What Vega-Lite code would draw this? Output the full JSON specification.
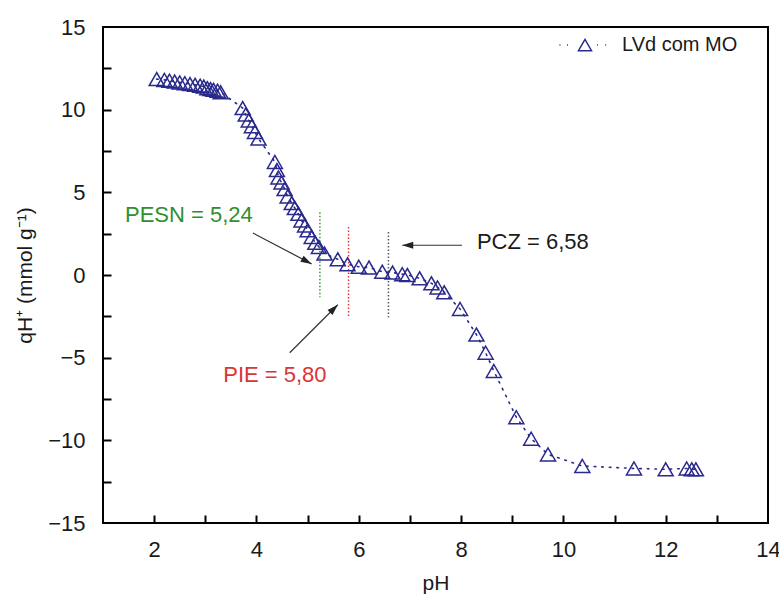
{
  "$schema": "https://vega.github.io/schema/vega-lite/v6.json",
  "width": 665,
  "height": 496,
  "autosize": {"type": "none"},
  "padding": {"left": 103, "top": 27, "right": 11, "bottom": 78},
  "background": "white",
  "config": {
    "font": "Liberation Sans",
    "view": {"stroke": "black", "strokeWidth": 2},
    "axis": {"grid": false, "labelFont": "Liberation Sans", "titleFont": "Liberation Sans", "titleFontWeight": "normal", "labelColor": "#1a1a1a", "titleColor": "#1a1a1a", "domainColor": "black", "tickColor": "black", "labelFlush": false, "labelOverlap": false, "labelBound": false}
  },
  "datasets": {
    "pts": [
      {"pH": 2.05, "qH": 11.85, "series": "LVd com MO"},
      {"pH": 2.2, "qH": 11.8, "series": "LVd com MO"},
      {"pH": 2.3, "qH": 11.75, "series": "LVd com MO"},
      {"pH": 2.4, "qH": 11.7, "series": "LVd com MO"},
      {"pH": 2.5, "qH": 11.65, "series": "LVd com MO"},
      {"pH": 2.6, "qH": 11.6, "series": "LVd com MO"},
      {"pH": 2.7, "qH": 11.55, "series": "LVd com MO"},
      {"pH": 2.8, "qH": 11.5, "series": "LVd com MO"},
      {"pH": 2.9, "qH": 11.45, "series": "LVd com MO"},
      {"pH": 2.97, "qH": 11.4, "series": "LVd com MO"},
      {"pH": 3.04, "qH": 11.3, "series": "LVd com MO"},
      {"pH": 3.1, "qH": 11.25, "series": "LVd com MO"},
      {"pH": 3.16, "qH": 11.2, "series": "LVd com MO"},
      {"pH": 3.24, "qH": 11.15, "series": "LVd com MO"},
      {"pH": 3.3, "qH": 11.05, "series": "LVd com MO"},
      {"pH": 3.73, "qH": 10.1, "series": "LVd com MO"},
      {"pH": 3.79, "qH": 9.7, "series": "LVd com MO"},
      {"pH": 3.85, "qH": 9.35, "series": "LVd com MO"},
      {"pH": 3.91, "qH": 9.0, "series": "LVd com MO"},
      {"pH": 3.97, "qH": 8.65, "series": "LVd com MO"},
      {"pH": 4.04, "qH": 8.25, "series": "LVd com MO"},
      {"pH": 4.36, "qH": 6.84, "series": "LVd com MO"},
      {"pH": 4.4, "qH": 6.35, "series": "LVd com MO"},
      {"pH": 4.43, "qH": 5.9, "series": "LVd com MO"},
      {"pH": 4.49, "qH": 5.6, "series": "LVd com MO"},
      {"pH": 4.55, "qH": 5.2, "series": "LVd com MO"},
      {"pH": 4.61, "qH": 4.75, "series": "LVd com MO"},
      {"pH": 4.69, "qH": 4.35, "series": "LVd com MO"},
      {"pH": 4.75, "qH": 4.05, "series": "LVd com MO"},
      {"pH": 4.82, "qH": 3.7, "series": "LVd com MO"},
      {"pH": 4.88, "qH": 3.3, "series": "LVd com MO"},
      {"pH": 4.95, "qH": 3.0, "series": "LVd com MO"},
      {"pH": 5.0, "qH": 2.7, "series": "LVd com MO"},
      {"pH": 5.08, "qH": 2.3, "series": "LVd com MO"},
      {"pH": 5.15, "qH": 1.95, "series": "LVd com MO"},
      {"pH": 5.22, "qH": 1.7, "series": "LVd com MO"},
      {"pH": 5.33, "qH": 1.3, "series": "LVd com MO"},
      {"pH": 5.59, "qH": 0.95, "series": "LVd com MO"},
      {"pH": 5.78, "qH": 0.65, "series": "LVd com MO"},
      {"pH": 6.0, "qH": 0.5, "series": "LVd com MO"},
      {"pH": 6.2, "qH": 0.45, "series": "LVd com MO"},
      {"pH": 6.46, "qH": 0.2, "series": "LVd com MO"},
      {"pH": 6.66, "qH": 0.15, "series": "LVd com MO"},
      {"pH": 6.85, "qH": 0.05, "series": "LVd com MO"},
      {"pH": 6.95, "qH": 0.0, "series": "LVd com MO"},
      {"pH": 7.19, "qH": -0.2, "series": "LVd com MO"},
      {"pH": 7.42, "qH": -0.5, "series": "LVd com MO"},
      {"pH": 7.54, "qH": -0.75, "series": "LVd com MO"},
      {"pH": 7.67, "qH": -1.05, "series": "LVd com MO"},
      {"pH": 7.98, "qH": -2.05, "series": "LVd com MO"},
      {"pH": 8.3, "qH": -3.6, "series": "LVd com MO"},
      {"pH": 8.48, "qH": -4.7, "series": "LVd com MO"},
      {"pH": 8.64, "qH": -5.8, "series": "LVd com MO"},
      {"pH": 9.08, "qH": -8.6, "series": "LVd com MO"},
      {"pH": 9.37, "qH": -9.9, "series": "LVd com MO"},
      {"pH": 9.7, "qH": -10.85, "series": "LVd com MO"},
      {"pH": 10.37, "qH": -11.55, "series": "LVd com MO"},
      {"pH": 11.38, "qH": -11.7, "series": "LVd com MO"},
      {"pH": 12.0, "qH": -11.75, "series": "LVd com MO"},
      {"pH": 12.41, "qH": -11.7, "series": "LVd com MO"},
      {"pH": 12.51, "qH": -11.75, "series": "LVd com MO"},
      {"pH": 12.59, "qH": -11.75, "series": "LVd com MO"}
    ],
    "vlines": [
      {"name": "PESN", "pH": 5.24, "top": 3.8, "bottom": -1.35},
      {"name": "PIE", "pH": 5.80, "top": 2.9, "bottom": -2.55},
      {"name": "PCZ", "pH": 6.58, "top": 2.6, "bottom": -2.55}
    ],
    "arrows": [
      {"name": "PESN", "x1": 3.93, "y1": 2.54, "x2": 5.08, "y2": 0.67},
      {"name": "PCZ", "x1": 8.02, "y1": 1.8, "x2": 6.85, "y2": 1.8},
      {"name": "PIE", "x1": 4.65, "y1": -4.7, "x2": 5.59, "y2": -1.8}
    ],
    "labels": [
      {"name": "PESN", "pH": 1.43, "qH": 3.2, "text": "PESN = 5,24"},
      {"name": "PCZ", "pH": 8.31, "qH": 1.57, "text": "PCZ = 6,58"},
      {"name": "PIE", "pH": 3.35, "qH": -6.47, "text": "PIE = 5,80"}
    ]
  },
  "layer": [
    {
      "mark": {"type": "rule", "color": "#a0a0a0", "strokeWidth": 1.2},
      "encoding": {"y": {"datum": 0, "axis": null}}
    },
    {
      "data": {"name": "vlines"},
      "mark": {"type": "rule", "strokeWidth": 1.5, "strokeDash": [1.5, 2]},
      "encoding": {
        "x": {"field": "pH", "type": "quantitative", "scale": {"domain": [1, 14], "nice": false, "zero": false},
              "axis": {"orient": "bottom", "values": [2, 3, 4, 5, 6, 7, 8, 9, 10, 11, 12, 13], "tickSize": -8, "tickWidth": 2, "labels": false, "domain": false, "title": null}},
        "y": {"field": "top", "type": "quantitative", "scale": {"domain": [-15, 15], "nice": false, "zero": false},
              "axis": {"orient": "left", "values": [-12.5, -10, -7.5, -5, -2.5, 0, 2.5, 5, 7.5, 10, 12.5], "tickSize": -8, "tickWidth": 2, "labels": false, "domain": false, "title": null}},
        "y2": {"field": "bottom"},
        "stroke": {"field": "name", "type": "nominal", "scale": {"domain": ["PESN", "PIE", "PCZ"], "range": ["#3a9a3a", "#dd3b3b", "#555566"]}, "legend": null}
      }
    },
    {
      "data": {"name": "pts"},
      "mark": {"type": "line", "strokeWidth": 1.6, "strokeDash": [1.6, 6], "strokeCap": "round"},
      "encoding": {
        "x": {"field": "pH", "type": "quantitative",
              "axis": {"orient": "bottom", "values": [2, 4, 6, 8, 10, 12, 14], "ticks": false, "domain": false, "labelPadding": 16, "labelFontSize": 22, "title": "pH", "titleFontSize": 21, "titlePadding": 12}},
        "y": {"field": "qH", "type": "quantitative",
              "axis": {"orient": "left", "values": [-15, -10, -5, 0, 5, 10, 15], "ticks": false, "domain": false, "labelPadding": 18, "labelFontSize": 22, "title": "qH⁺ (mmol g⁻¹)", "titleFontSize": 21, "titlePadding": 12}},
        "order": {"field": "pH", "type": "quantitative"},
        "color": {"field": "series", "type": "nominal", "scale": {"range": ["#2a2a8c"]},
                  "legend": {"title": null, "orient": "none", "legendX": 472, "legendY": 8, "padding": 0, "labelFontSize": 20, "labelColor": "#1a1a1a", "labelOffset": 27,
                             "symbolType": "M-3.4,0h0.12M-2.4,0h0.12M1.6,0h0.12M2.7,0h0.12M0,-0.75L-0.87,0.75L0.87,0.75Z", "symbolSize": 225, "symbolStrokeWidth": 1.5, "symbolFillColor": "transparent", "symbolStrokeColor": "#2a2a8c"}}
      }
    },
    {
      "data": {"name": "pts"},
      "mark": {"type": "point", "shape": "triangle-up", "size": 225, "filled": false, "strokeWidth": 1.5, "opacity": 1},
      "encoding": {
        "x": {"field": "pH", "type": "quantitative", "axis": null},
        "y": {"field": "qH", "type": "quantitative", "axis": null},
        "color": {"field": "series", "type": "nominal"}
      }
    },
    {
      "data": {"name": "arrows"},
      "mark": {"type": "rule", "color": "#333333", "strokeWidth": 1.2},
      "encoding": {
        "x": {"field": "x1", "type": "quantitative", "axis": null},
        "y": {"field": "y1", "type": "quantitative", "axis": null},
        "x2": {"field": "x2"},
        "y2": {"field": "y2"}
      }
    },
    {
      "data": {"name": "arrows"},
      "mark": {"type": "point", "shape": "M0,0L-0.7,2.2L0.7,2.2Z", "size": 100, "filled": true, "color": "#222222", "opacity": 1},
      "encoding": {
        "x": {"field": "x2", "type": "quantitative", "axis": null},
        "y": {"field": "y2", "type": "quantitative", "axis": null},
        "angle": {"field": "name", "type": "nominal", "scale": {"type": "ordinal", "domain": ["PESN", "PCZ", "PIE"], "range": [118, 270, 45]}, "legend": null}
      }
    },
    {
      "data": {"name": "labels"},
      "mark": {"type": "text", "align": "left", "baseline": "alphabetic", "fontSize": 22, "font": "Liberation Sans"},
      "encoding": {
        "x": {"field": "pH", "type": "quantitative", "axis": null},
        "y": {"field": "qH", "type": "quantitative", "axis": null},
        "text": {"field": "text"},
        "fill": {"field": "name", "type": "nominal", "scale": {"domain": ["PESN", "PIE", "PCZ"], "range": ["#2f8f2f", "#d93535", "#1a1a1a"]}, "legend": null}
      }
    }
  ],
  "resolve": {"axis": {"x": "independent", "y": "independent"}}
}
